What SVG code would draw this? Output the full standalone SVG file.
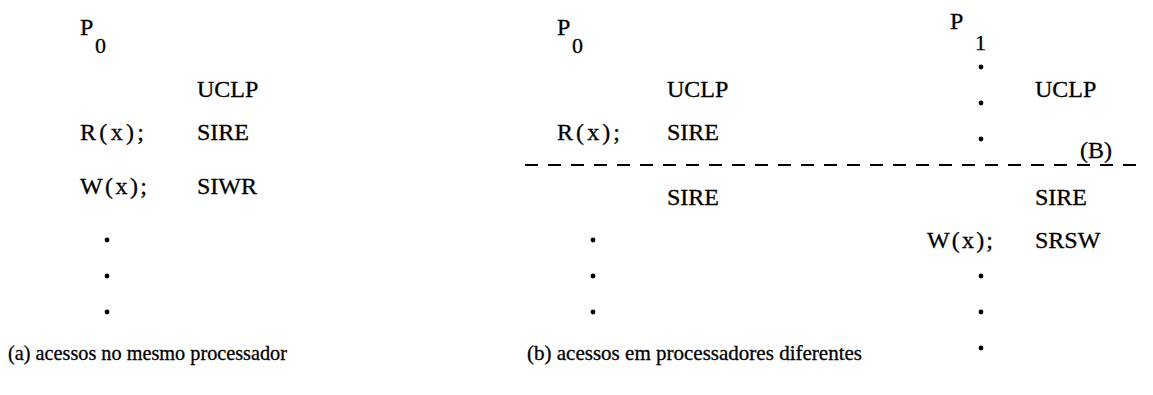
<svg xmlns="http://www.w3.org/2000/svg" width="1153" height="395" viewBox="0 0 1153 395">
<style>
text { font-family: "Liberation Serif", Tinos, "DejaVu Serif", "Noto Serif", serif; fill: #000; stroke: #000; stroke-width: 0.3; }
.lbl { font-size: 24px; }
.sub { font-size: 22px; }
.cap { font-size: 21px; }
.dot { fill: #000; }
.dash { stroke: #000; stroke-width: 2; stroke-dasharray: 13 10; fill: none; }
</style>
<rect width="1153" height="395" fill="#fff"/>
<g id="panel-a">
  <g id="a-p0"><text class="lbl" x="80" y="35">P</text><text class="sub" x="95" y="53">0</text></g>
  <g id="a-uclp"><text class="lbl" x="197" y="97">UCLP</text></g>
  <g id="a-rx"><text class="lbl" x="80" y="140" textLength="64" lengthAdjust="spacing">R(x);</text><text class="lbl" x="197" y="140">SIRE</text></g>
  <g id="a-wx"><text class="lbl" x="80" y="194" textLength="67" lengthAdjust="spacing">W(x);</text><text class="lbl" x="197" y="194">SIWR</text></g>
  <g id="a-dots"><circle class="dot" cx="107" cy="240" r="2.4"/><circle class="dot" cx="107" cy="276" r="2.4"/><circle class="dot" cx="107" cy="312" r="2.4"/></g>
  <g id="a-caption"><text class="cap" x="8" y="360" textLength="279" lengthAdjust="spacingAndGlyphs">(a) acessos no mesmo processador</text></g>
</g>
<g id="panel-b">
  <g id="b-p0"><text class="lbl" x="557" y="35">P</text><text class="sub" x="572" y="53">0</text></g>
  <g id="b-uclp0"><text class="lbl" x="667" y="97">UCLP</text></g>
  <g id="b-rx"><text class="lbl" x="557" y="140" textLength="63" lengthAdjust="spacing">R(x);</text><text class="lbl" x="667" y="140">SIRE</text></g>
  <g id="b-sire0"><text class="lbl" x="667" y="205">SIRE</text></g>
  <g id="b-dots0"><circle class="dot" cx="593" cy="240" r="2.4"/><circle class="dot" cx="593" cy="276" r="2.4"/><circle class="dot" cx="593" cy="312" r="2.4"/></g>
  <g id="b-p1"><text class="lbl" x="950" y="29">P</text><text class="sub" x="975" y="50">1</text></g>
  <g id="b-dots1a"><circle class="dot" cx="981" cy="67" r="2.4"/><circle class="dot" cx="981" cy="103" r="2.4"/><circle class="dot" cx="981" cy="139" r="2.4"/></g>
  <g id="b-uclp1"><text class="lbl" x="1035" y="97">UCLP</text></g>
  <g id="b-B"><text class="lbl" x="1080" y="158">(B)</text></g>
  <g id="b-sire1"><text class="lbl" x="1035" y="205">SIRE</text></g>
  <g id="b-wx"><text class="lbl" x="927" y="248" textLength="66" lengthAdjust="spacing">W(x);</text><text class="lbl" x="1035" y="248">SRSW</text></g>
  <g id="b-dots1b"><circle class="dot" cx="981" cy="276" r="2.4"/><circle class="dot" cx="981" cy="312" r="2.4"/><circle class="dot" cx="981" cy="348" r="2.4"/></g>
  <g id="connectors"><line class="dash" x1="525" y1="165" x2="1143" y2="165"/></g>
  <g id="b-caption"><text class="cap" x="527" y="360" textLength="335" lengthAdjust="spacingAndGlyphs">(b) acessos em processadores diferentes</text></g>
</g>
</svg>
